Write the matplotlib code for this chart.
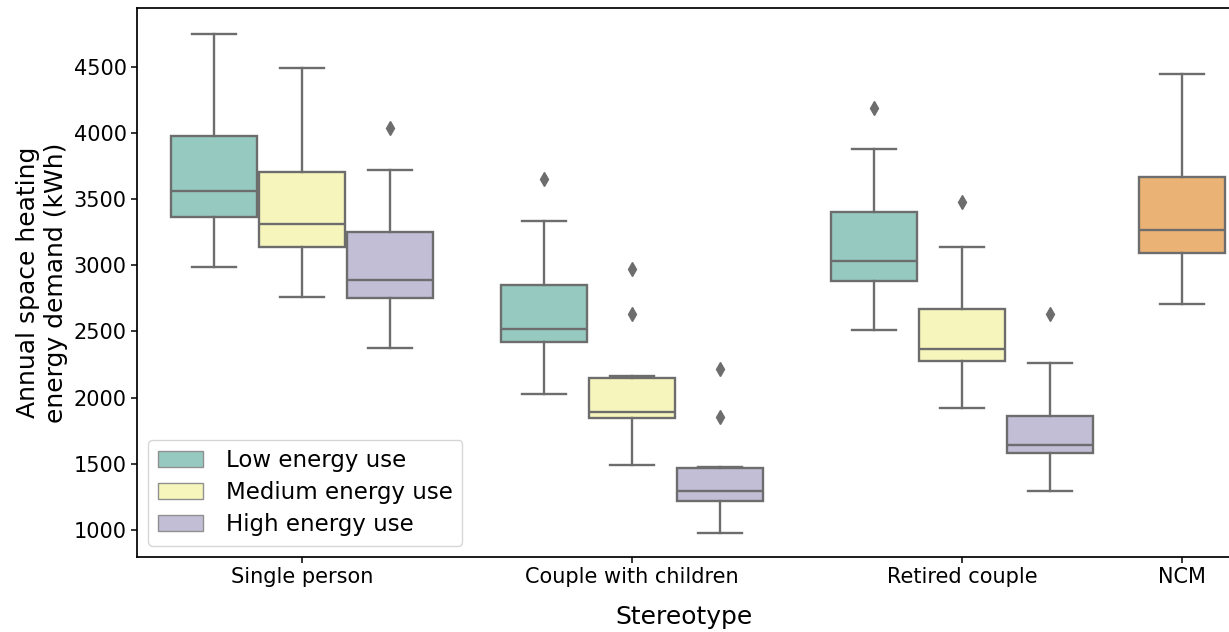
import matplotlib
matplotlib.use("Agg")
import matplotlib.pyplot as plt
from matplotlib.patches import Patch
import seaborn as sns

# ---- data ----
categories = ["Single person", "Couple with children", "Retired couple"]
hues = ["Low energy use", "Medium energy use", "High energy use"]

# per category, per hue: [whislo, q1, med, q3, whishi]
low_stats = [[2990, 3368, 3565, 3981, 4745],
             [2030, 2421, 2519, 2854, 3338],
             [2512, 2885, 3036, 3404, 3880]]
med_stats = [[2759, 3142, 3313, 3709, 4495],
             [1491, 1844, 1894, 2151, 2164],
             [1925, 2277, 2368, 2668, 3142]]
high_stats = [[2378, 2754, 2887, 3250, 3720],
              [980, 1219, 1297, 1466, 1479],
              [1297, 1584, 1640, 1859, 2260]]
low_fliers = [[], [3653], [4188]]
med_fliers = [[], [2973, 2635], [3477]]
high_fliers = [[4039], [2219, 1857], [2635]]

ncm_label = "NCM"
ncm_stats = [2706, 3091, 3268, 3671, 4447]
ncm_fliers = []

yticks = [1000, 1500, 2000, 2500, 3000, 3500, 4000, 4500]

# ---- style ----
pal = sns.color_palette("Set3", 6)
cols = [sns.desaturate(pal[0], 0.75), sns.desaturate(pal[1], 0.75),
        sns.desaturate(pal[2], 0.75)]
ncm_col = sns.desaturate(pal[5], 0.75)
line_col = "#6d6d6d"
lw = 1.7

fig = plt.figure(figsize=(12.29, 6.32), dpi=100)
ax = fig.add_axes([137 / 1229, 75 / 632, (1231 - 137) / 1229, 549 / 632])

hue_w = 0.8 / 3
box_w = hue_w * 0.98
offsets = [-hue_w, 0, hue_w]

def mk(st, fl):
    return dict(whislo=st[0], q1=st[1], med=st[2], q3=st[3], whishi=st[4], fliers=fl)

all_stats = [low_stats, med_stats, high_stats]
all_fliers = [low_fliers, med_fliers, high_fliers]

def draw(stats, positions, color):
    ax.bxp(stats, positions=positions, widths=box_w, capwidths=box_w / 2,
           patch_artist=True, manage_ticks=False,
           boxprops=dict(facecolor=color, edgecolor=line_col, linewidth=lw),
           medianprops=dict(color=line_col, linewidth=lw),
           whiskerprops=dict(color=line_col, linewidth=lw),
           capprops=dict(color=line_col, linewidth=lw),
           flierprops=dict(marker="d", markerfacecolor=line_col,
                           markeredgecolor=line_col, markersize=7))

for h in range(3):
    stats = [mk(all_stats[h][c], all_fliers[h][c]) for c in range(3)]
    pos = [c + offsets[h] for c in range(3)]
    draw(stats, pos, cols[h])

ncm_pos = 2 + 2 / 3
draw([mk(ncm_stats, ncm_fliers)], [ncm_pos], ncm_col)

ax.set_xlim(-0.5, (1231 - 302) / 330)
ax.set_ylim(795, 4945)
ax.set_xticks([0, 1, 2, ncm_pos])
ax.set_xticklabels(categories + [ncm_label], fontsize=15)
ax.set_yticks(yticks)
ax.set_yticklabels([str(v) for v in yticks], fontsize=15)
ax.tick_params(width=1.1, length=4)
for s in ax.spines.values():
    s.set_linewidth(1.25)
ax.set_xlabel("Stereotype", fontsize=18, labelpad=13)
ax.set_ylabel("Annual space heating\nenergy demand (kWh)", fontsize=18)

handles = [Patch(facecolor=cols[i], edgecolor="#909090", label=hues[i]) for i in range(3)]
ax.legend(handles=handles, loc="lower left", fontsize=16.5, handletextpad=1.0,
          labelspacing=0.4)

fig.savefig("out.png", dpi=100)
